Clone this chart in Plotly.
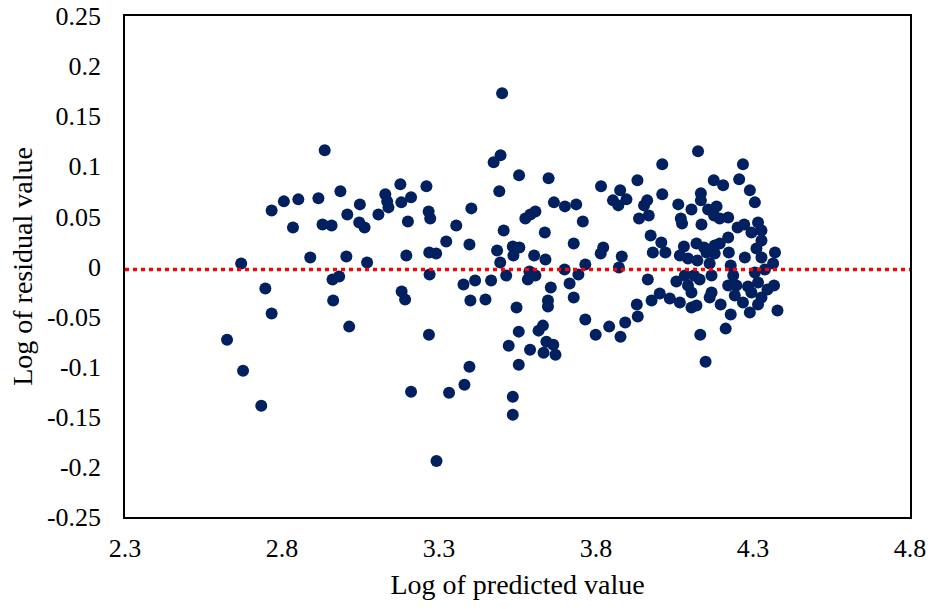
import plotly.graph_objects as go

# Log of predicted value (x) and log of residual value (y), one pair per observation
predicted = [
    2.936, 2.986, 2.767, 2.806, 2.852, 2.916, 2.835, 2.929, 2.958, 3.008, 2.670,
    2.890, 3.005, 2.961, 2.982, 2.747, 2.963, 2.767, 3.014, 2.625, 2.676, 2.734,
    3.177, 3.260, 3.129, 3.211, 3.048, 3.135, 3.139, 3.180, 3.107, 3.046, 3.063,
    3.201, 3.267, 3.272, 3.403, 3.355, 3.323, 3.397, 3.071, 3.196, 3.269, 3.291,
    3.270, 3.378, 3.181, 3.192, 3.400, 3.268, 3.397, 3.381, 3.211, 3.332, 3.292,
    3.501, 3.496, 3.474, 3.555, 3.649, 3.492, 3.666, 3.701, 3.575, 3.607, 3.591,
    3.506, 3.637, 3.485, 3.535, 3.556, 3.537, 3.495, 3.603, 3.639, 3.415, 3.466,
    3.514, 3.588, 3.583, 3.607, 3.656, 3.448, 3.647, 3.647, 3.547, 3.554, 3.617,
    3.631, 3.522, 3.590, 3.642, 3.664, 3.633, 3.671, 3.554, 3.535, 3.535,
    3.932, 3.816, 3.877, 3.854, 3.897, 3.871, 3.963, 3.953, 3.737, 3.758, 3.937,
    3.968, 3.729, 3.823, 3.815, 3.882, 3.974, 3.766, 3.873, 3.700, 3.744, 3.716,
    3.965, 3.977, 3.930, 3.933, 3.766, 3.893, 3.842, 3.799, 3.878, 3.729,
    4.125, 4.011, 4.175, 4.134, 4.011, 4.062, 4.104, 4.134, 4.157, 4.184, 4.176,
    4.070, 4.074, 4.136, 4.008, 3.981, 4.021, 4.080, 4.067, 4.120, 4.144, 4.178,
    4.093, 4.123, 4.152, 4.178, 4.162, 4.083, 4.112, 4.130, 4.168, 4.056, 4.093,
    4.104, 4.168, 4.003, 4.035, 4.067, 4.104, 4.120, 4.162, 4.197, 4.132, 4.149,
    4.268, 4.256, 4.205, 4.290, 4.306, 4.221, 4.194, 4.251, 4.272, 4.316, 4.295,
    4.327, 4.221, 4.194, 4.327, 4.223, 4.311, 4.274, 4.327, 4.370, 4.364, 4.338,
    4.306, 4.229, 4.237, 4.221, 4.247, 4.284, 4.316, 4.367, 4.346, 4.242, 4.295,
    4.327, 4.268, 4.316, 4.290, 4.229, 4.378, 4.213,
]

residual = [
    0.116, 0.075, 0.056, 0.065, 0.067, 0.068, 0.039, 0.042, 0.041, 0.052, 0.003,
    0.009, 0.010, -0.013, -0.010, -0.022, -0.034, -0.047, -0.060, -0.073, -0.104, -0.139,
    0.082, 0.080, 0.072, 0.069, 0.062, 0.065, 0.059, 0.064, 0.052, 0.044, 0.039,
    0.045, 0.055, 0.048, 0.058, 0.041, 0.025, 0.022, 0.004, 0.011, 0.014, 0.013,
    -0.008, -0.018, -0.025, -0.033, -0.034, -0.068, -0.100, -0.118, -0.125, -0.126, -0.194,
    0.173, 0.111, 0.104, 0.091, 0.088, 0.075, 0.064, 0.060, 0.048, 0.055, 0.052,
    0.036, 0.034, 0.016, 0.020, 0.019, 0.011, 0.004, 0.011, 0.007, -0.014, -0.014,
    -0.009, -0.005, -0.013, -0.009, -0.021, -0.033, -0.034, -0.040, -0.041, -0.065, -0.064,
    -0.059, -0.079, -0.083, -0.075, -0.078, -0.086, -0.088, -0.098, -0.130, -0.148,
    0.086, 0.080, 0.076, 0.066, 0.067, 0.061, 0.066, 0.061, 0.062, 0.045, 0.048,
    0.051, 0.023, 0.019, 0.013, 0.010, 0.031, 0.002, -0.001, -0.003, -0.008, -0.017,
    -0.013, -0.034, -0.038, -0.050, -0.053, -0.056, -0.060, -0.068, -0.070, -0.031,
    0.115, 0.102, 0.086, 0.073, 0.072, 0.062, 0.057, 0.066, 0.057, 0.060, 0.051,
    0.048, 0.043, 0.042, 0.024, 0.014, 0.014, 0.020, 0.011, 0.023, 0.019, 0.021,
    0.008, 0.006, 0.014, 0.013, 0.003, -0.009, -0.009, -0.013, -0.009, -0.015, -0.019,
    -0.026, -0.026, -0.027, -0.032, -0.036, -0.041, -0.039, -0.031, -0.038, -0.068, -0.095,
    0.102, 0.087, 0.081, 0.076, 0.064, 0.049, 0.048, 0.039, 0.042, 0.044, 0.034,
    0.036, 0.029, 0.023, 0.026, 0.014, 0.018, 0.009, 0.009, 0.014, 0.003, -0.003,
    -0.006, 0.001, -0.009, -0.019, -0.019, -0.020, -0.016, -0.019, -0.023, -0.029, -0.026,
    -0.031, -0.036, -0.038, -0.046, -0.048, -0.044, -0.062,
]

# Horizontal reference level across the full x range
ref_x = [2.3, 4.8]
ref_y = [-0.003, -0.003]

# Axis ticks
x_ticks = [2.3, 2.8, 3.3, 3.8, 4.3, 4.8]
x_tick_labels = ["2.3", "2.8", "3.3", "3.8", "4.3", "4.8"]
y_ticks = [0.25, 0.2, 0.15, 0.1, 0.05, 0, -0.05, -0.1, -0.15, -0.2, -0.25]
y_tick_labels = ["0.25", "0.2", "0.15", "0.1", "0.05", "0",
                 "-0.05", "-0.1", "-0.15", "-0.2", "-0.25"]

FONT = "Times New Roman, Liberation Serif, serif"

fig = go.Figure()
fig.add_trace(go.Scatter(
    x=predicted, y=residual, mode="markers",
    marker=dict(color="#002060", size=12, line=dict(width=0)),
    showlegend=False, hoverinfo="x+y",
))
fig.add_trace(go.Scatter(
    x=ref_x, y=ref_y, mode="lines",
    line=dict(color="#FF0000", width=3.5, dash="4px,4px"),
    showlegend=False, hoverinfo="skip",
))

fig.update_layout(
    width=934, height=609,
    margin=dict(l=125, r=24, t=16, b=92),
    paper_bgcolor="white", plot_bgcolor="white",
    font=dict(family=FONT, color="black", size=26),
    xaxis=dict(
        range=[2.3, 4.8], tickvals=x_ticks, ticktext=x_tick_labels,
        showgrid=False, zeroline=False, showline=True, mirror=True,
        linecolor="black", linewidth=1.5, ticks="", automargin=False,
        tickfont=dict(size=26), ticklabelstandoff=7,
        title=dict(text="Log of predicted value", font=dict(size=28), standoff=12),
    ),
    yaxis=dict(
        range=[-0.25, 0.25], tickvals=y_ticks, ticktext=y_tick_labels,
        showgrid=False, zeroline=False, showline=True, mirror=True,
        linecolor="black", linewidth=1.5, ticks="", automargin=False,
        tickfont=dict(size=26), ticklabelstandoff=17,
        title=dict(text="Log of residual value", font=dict(size=28), standoff=6),
    ),
)

fig.write_html("out.html")
